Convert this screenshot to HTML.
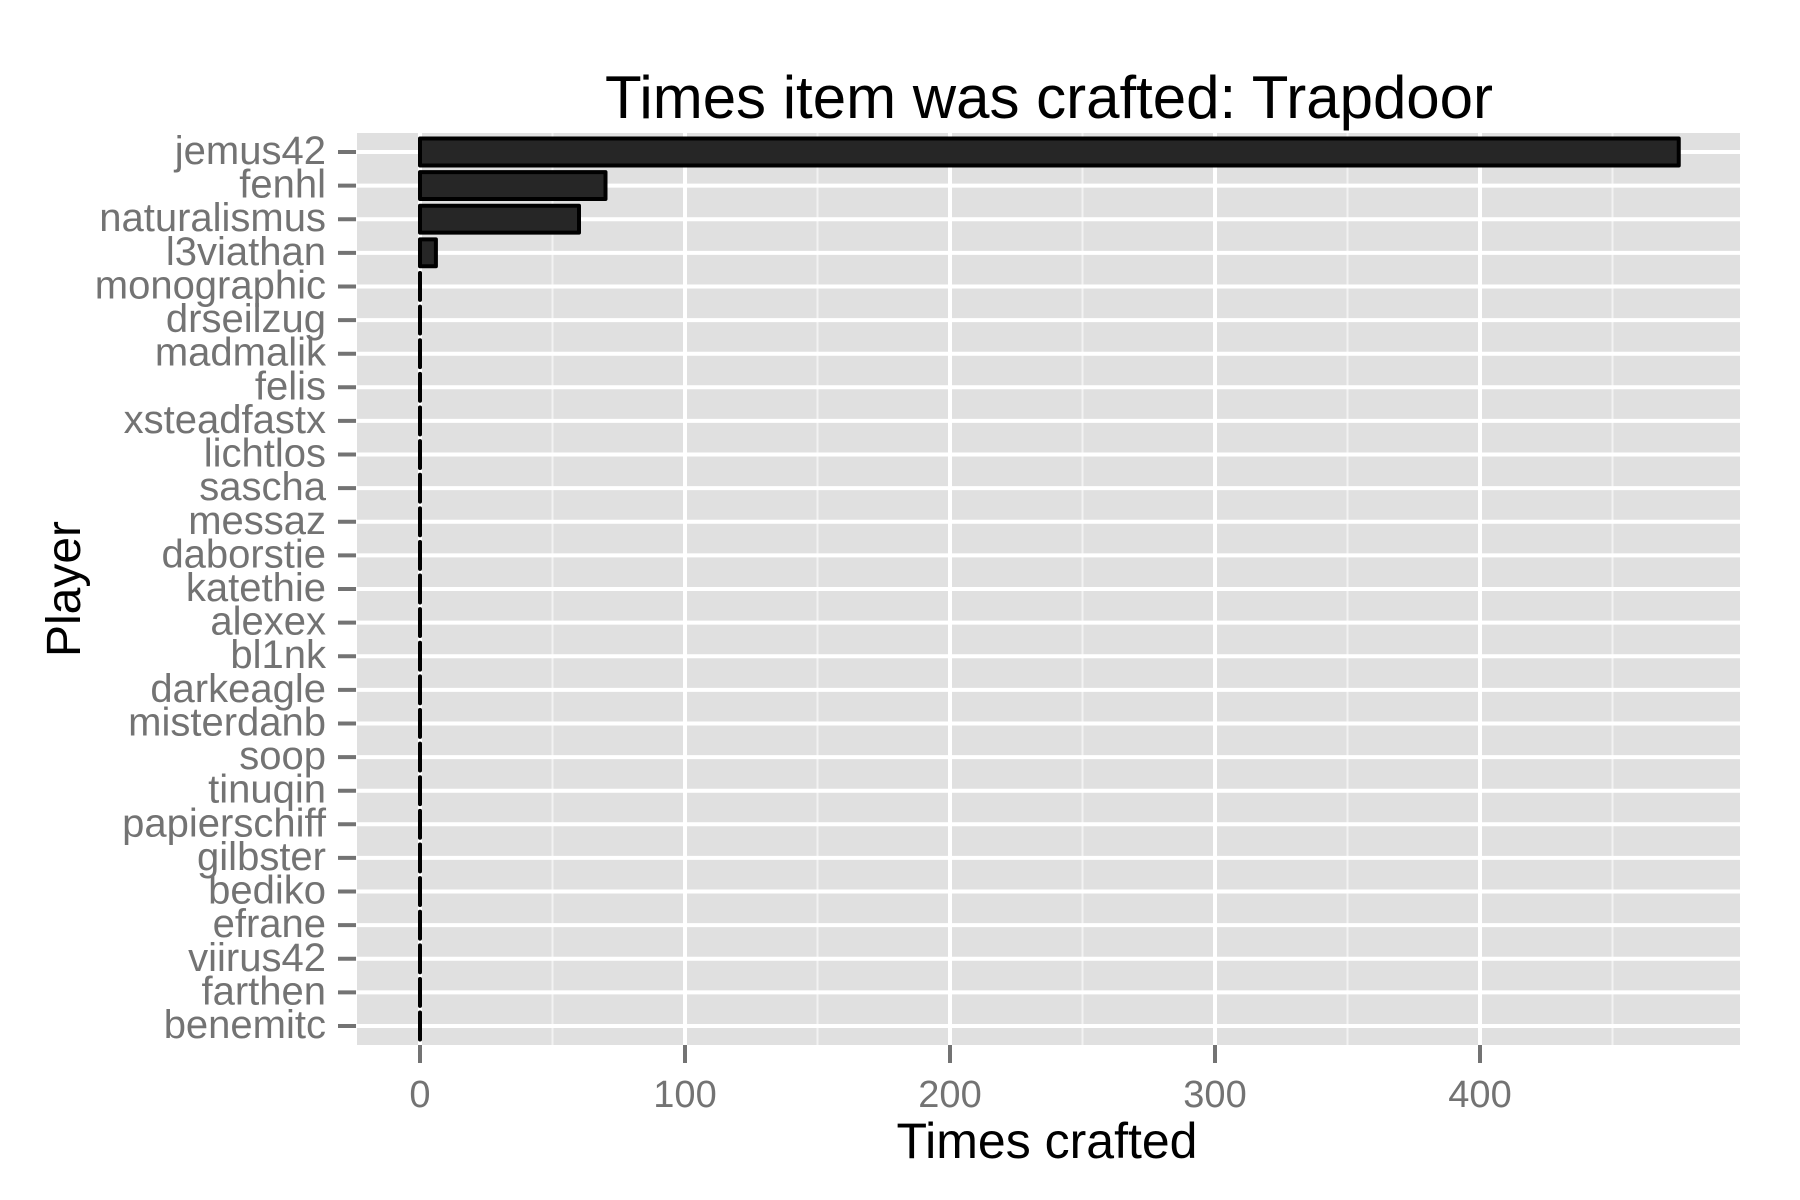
<!DOCTYPE html>
<html><head><meta charset="utf-8"><style>
html,body{margin:0;padding:0;background:#fff;}
svg{display:block;font-family:"Liberation Sans",Arial,sans-serif;}
</style></head><body>
<svg id="chart" width="1800" height="1200" viewBox="0 0 1800 1200">
<rect x="0" y="0" width="1800" height="1200" fill="#fff"/>
<text x="1049" y="118" font-size="60" text-anchor="middle" fill="#000">Times item was crafted: Trapdoor</text>
<rect x="357" y="133" width="1383" height="912" fill="#e0e0e0"/>
<g id="grid"></g>
<g id="bars"></g>
<g id="yaxis"></g>
<g id="xaxis"></g>
<text x="1047" y="1158" font-size="50" text-anchor="middle" fill="#000">Times crafted</text>
<text transform="translate(80,589) rotate(-90)" font-size="48" text-anchor="middle" fill="#000">Player</text>
</svg>
<script>
const players = ["jemus42","fenhl","naturalismus","l3viathan","monographic","drseilzug","madmalik","felis","xsteadfastx","lichtlos","sascha","messaz","daborstie","katethie","alexex","bl1nk","darkeagle","misterdanb","soop","tinuqin","papierschiff","gilbster","bediko","efrane","viirus42","farthen","benemitc"];
const counts = [475,70,60,6,0,0,0,0,0,0,0,0,0,0,0,0,0,0,0,0,0,0,0,0,0,0,0];
const xTicks = [0,100,200,300,400];
const xMinor = [50,150,250,350,450];

const NS="http://www.w3.org/2000/svg";
const panelL=357, panelR=1740, panelT=133, panelB=1045;
const xScale = v => 420 + v*2.65;
const pad = 19;
const step = (panelB-panelT-2*pad)/(players.length-1);
const yScale = i => panelT + pad + step*i;
function mk(tag, attrs, parent){const e=document.createElementNS(NS,tag);for(const k in attrs)e.setAttribute(k,attrs[k]);parent.appendChild(e);return e;}
const grid=document.getElementById('grid'), bars=document.getElementById('bars'), ya=document.getElementById('yaxis'), xa=document.getElementById('xaxis');

xMinor.forEach(v=>{const x=xScale(v); if(x>panelR) return;
  const l=mk('line',{x1:x,x2:x,y1:panelT,y2:panelB,stroke:'#f2f2f2','stroke-width':2},grid);
  
  
});
xTicks.forEach(v=>{const x=xScale(v);
  const l=mk('line',{x1:x,x2:x,y1:panelT,y2:panelB,stroke:'#fff','stroke-width':4},grid);
  
  
  const t=mk('line',{x1:x,x2:x,y1:panelB,y2:panelB+18,stroke:'#737373','stroke-width':4},xa);
  
  
  const tx=mk('text',{x:x,y:1107,'font-size':38,'text-anchor':'middle',fill:'#737373'},xa);
  tx.textContent=v;
  
  
});
players.forEach((p,i)=>{const y=yScale(i);
  const g=mk('line',{x1:panelL,x2:panelR,y1:y,y2:y,stroke:'#fff','stroke-width':4},grid);
  
  
  const t=mk('line',{x1:338,x2:356,y1:y,y2:y,stroke:'#737373','stroke-width':4},ya);
  
  
  const tx=mk('text',{x:326,y:y+12,'font-size':40,'text-anchor':'end',fill:'#737373'},ya);
  tx.textContent=p;
  
  
  const h=step*0.8, x0=xScale(0), x1=xScale(counts[i]);
  let b;
  if (x1-x0 > 0.5) {
    b=mk('rect',{x:x0,y:y-h/2,width:x1-x0,height:h,fill:'#262626',stroke:'#000','stroke-width':4,'stroke-linejoin':'round'},bars);
  } else {
    b=mk('line',{x1:x0,x2:x0,y1:y-h/2,y2:y+h/2,stroke:'#000','stroke-width':4,'stroke-linecap':'round'},bars);
  }
  
  
});
</script>
</body></html>
